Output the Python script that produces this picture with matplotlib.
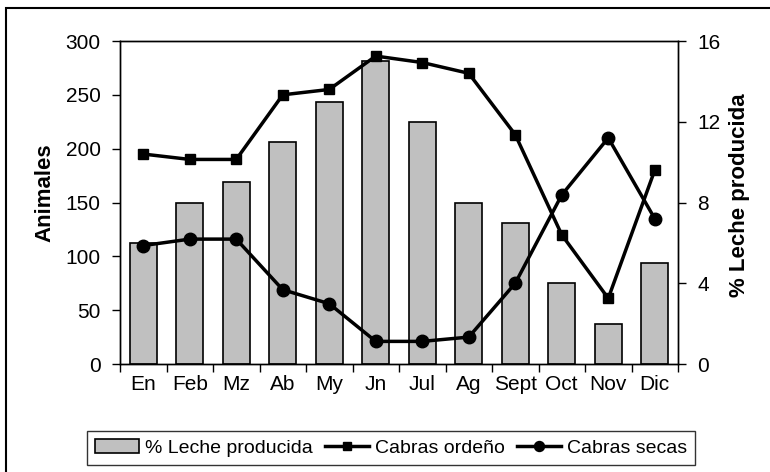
import matplotlib.pyplot as plt
import matplotlib.patches as mpatches
import numpy as np

plt.rcParams['font.family'] = ['Liberation Sans', 'DejaVu Sans']

# datos
meses = ['En', 'Feb', 'Mz', 'Ab', 'My', 'Jn', 'Jul', 'Ag', 'Sept', 'Oct', 'Nov', 'Dic']
leche = [6, 8, 9, 11, 13, 15, 12, 8, 7, 4, 2, 5]
cabras_ordeno = [195, 190, 190, 250, 255, 286, 280, 270, 213, 120, 61, 180]
cabras_secas = [110, 116, 116, 69, 56, 21, 21, 25, 75, 157, 210, 135]

W, H = 770, 472
fig = plt.figure(figsize=(W / 100, H / 100), dpi=100)

x = np.arange(len(meses))
ax = fig.add_axes([120 / W, (H - 364) / H, (678 - 120) / W, (364 - 41) / H])
ax2 = ax.twinx()

# barras en el eje derecho
ax2.bar(x, leche, width=0.57, color='#c0c0c0', edgecolor='black', linewidth=1.2,
        label='% Leche producida')
ax2.set_ylim(0, 16)
ax2.set_yticks([0, 4, 8, 12, 16])

# lineas en el eje izquierdo, por encima de las barras
ax.set_zorder(ax2.get_zorder() + 1)
ax.patch.set_visible(False)
ax.plot(x, cabras_ordeno, color='black', lw=2.5, marker='s', ms=6.5, label='Cabras ordeño')
ax.plot(x, cabras_secas, color='black', lw=2.5, marker='o', ms=9, label='Cabras secas')
ax.set_ylim(0, 300)
ax.set_yticks(range(0, 301, 50))
ax.set_xlim(-0.5, 11.5)

# ticks entre categorias, etiquetas al centro
ax.set_xticks(np.arange(-0.5, 12, 1))
ax.set_xticklabels([])
ax.set_xticks(x, minor=True)
ax.set_xticklabels(meses, minor=True)
ax.tick_params(axis='x', which='minor', length=0, pad=8, labelsize=15)
ax.tick_params(axis='x', which='major', length=6, width=1)
ax.tick_params(axis='y', length=6, width=1, pad=8, labelsize=15)
ax2.tick_params(axis='y', length=6, width=1, pad=8, labelsize=15)

for a in (ax, ax2):
    for s in a.spines.values():
        s.set_linewidth(1)

fig.text(45 / W, 1 - 193 / H, 'Animales', rotation=90, ha='center', va='center',
         fontsize=16, fontweight='bold')
fig.text(740 / W, 1 - 195 / H, '% Leche producida', rotation=90, ha='center', va='center',
         fontsize=16, fontweight='bold')

h1, l1 = ax2.get_legend_handles_labels()
h2, l2 = ax.get_legend_handles_labels()
leg = fig.legend(h1 + h2, l1 + l2, loc='center', bbox_to_anchor=(391 / W, 1 - 448 / H),
                 ncol=3, fontsize=14, frameon=True, fancybox=False, edgecolor='black',
                 handlelength=2.3, handletextpad=0.3, columnspacing=0.6, borderpad=0.4,
                 markerscale=0.8)
leg.get_frame().set_linewidth(1)

# marco exterior
fig.patches.append(mpatches.Rectangle((6 / W, -0.1), 2, (H - 8) / H + 0.1, fill=False,
                                      lw=1.5, edgecolor='black', transform=fig.transFigure,
                                      figure=fig))

fig.savefig('out.png', dpi=100)
